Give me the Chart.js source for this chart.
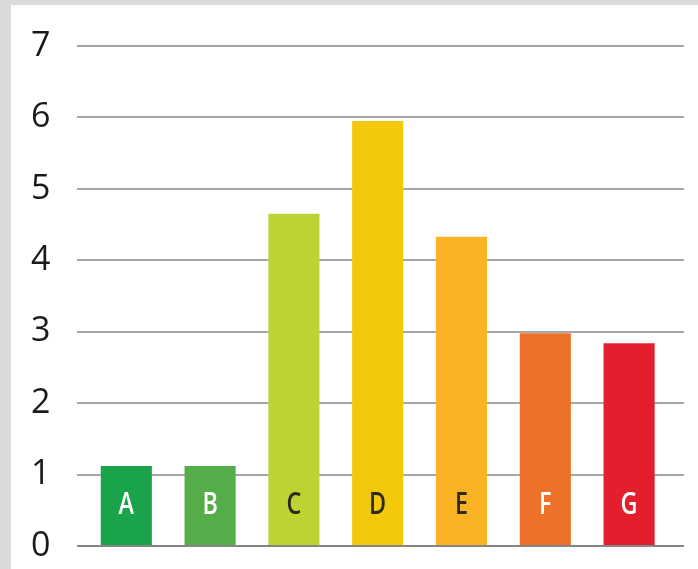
<!DOCTYPE html>
<html lang="en">
<head>
  <meta charset="UTF-8"/>
  <title>Bar chart A-G</title>
  <script src="https://cdn.jsdelivr.net/npm/chart.js"></script>
  <style>
    html, body {
      margin: 0;
      padding: 0;
      background: #dadada;
      overflow: hidden;
    }
    #wrap {
      position: absolute;
      left: 11px;
      top: 5px;
      width: 687px;
      height: 564px;
      background: #fff;
    }
  </style>
</head>
<body>
  <div id="wrap">
    <canvas id="bars" width="687" height="564"></canvas>
  </div>
  <script>
    const categories = ['A', 'B', 'C', 'D', 'E', 'F', 'G'];
    const values = [1.12, 1.12, 4.65, 5.95, 4.33, 2.98, 2.84];
    const barColors = ['#1aa34a', '#55ad4a', '#bed232', '#f2c80b', '#f9b324', '#ee7129', '#e31e2d'];
    const letterColors = ['#ffffff', '#ffffff', '#2b2b1c', '#2b2b1c', '#2b2b1c', '#ffffff', '#ffffff'];
    const yTicks = [0, 1, 2, 3, 4, 5, 6, 7];

    // letters sit inside each bar, a little above the base (narrowed like the original)
    const barLetters = {
      id: 'barLetters',
      afterDatasetsDraw(chart) {
        const ctx = chart.ctx;
        const y = chart.scales.y.getPixelForValue(0.57);
        const squeeze = 0.78;
        ctx.save();
        ctx.font = '600 30px "Open Sans", sans-serif';
        ctx.textAlign = 'center';
        ctx.textBaseline = 'middle';
        ctx.scale(squeeze, 1);
        chart.getDatasetMeta(0).data.forEach((bar, i) => {
          ctx.fillStyle = letterColors[i];
          ctx.fillText(categories[i], bar.x / squeeze, y);
        });
        ctx.restore();
      }
    };

    const gridColor = c => c.tick && c.tick.value === 0 ? '#858585' : '#a6a6a6';

    new Chart(document.getElementById('bars'), {
      type: 'bar',
      data: {
        labels: categories,
        datasets: [{
          data: values,
          backgroundColor: barColors,
          categoryPercentage: 1,
          barPercentage: 0.61
        }]
      },
      options: {
        responsive: false,
        animation: false,
        layout: { padding: { top: 41, bottom: 23, left: 20 } },
        plugins: {
          legend: { display: false },
          tooltip: { enabled: false }
        },
        scales: {
          x: { display: false },
          y: {
            position: 'left',
            min: 0,
            max: 7,
            afterBuildTicks: s => { s.ticks = yTicks.map(v => ({ value: v })); },
            afterFit: s => { s.width = 53.4; },
            border: { display: false },
            grid: { color: gridColor, lineWidth: 2, tickLength: 7.4 },
            ticks: {
              padding: 0,
              crossAlign: 'far',
              color: '#1a1a1a',
              font: { family: '"Open Sans", sans-serif', size: 34 }
            }
          },
          y2: {
            position: 'right',
            min: 0,
            max: 7,
            afterBuildTicks: s => { s.ticks = yTicks.map(v => ({ value: v })); },
            afterFit: s => { s.width = 27; },
            border: { display: false },
            grid: { drawOnChartArea: false, color: gridColor, lineWidth: 2, tickLength: 13 },
            ticks: { display: false }
          }
        }
      },
      plugins: [barLetters]
    });
  </script>
</body>
</html>
